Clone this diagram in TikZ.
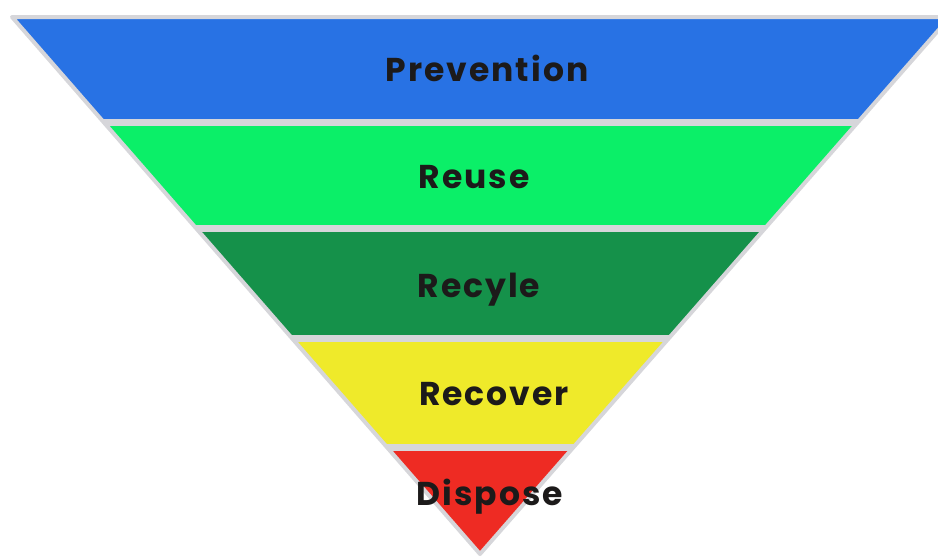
\documentclass[tikz,border=0pt]{standalone}
\usepackage{fontspec}
\setmainfont{Poppins}[UprightFont=* Bold, LetterSpace=6]
\usepackage{tikz}
\usetikzlibrary{positioning,calc}
\definecolor{bandblue}{HTML}{2872E4}
\definecolor{bandgreen}{HTML}{0BEF68}
\definecolor{banddark}{HTML}{15914A}
\definecolor{bandyellow}{HTML}{EFEA2A}
\definecolor{bandred}{HTML}{EE2B23}
\definecolor{edgegray}{HTML}{D6D6DA}
\definecolor{inkblack}{HTML}{1C1A1A}
\tikzset{
  bandlabel/.style={inkblack, font=\fontsize{33}{33}\selectfont, inner sep=0pt}
}

\begin{document}
\begin{tikzpicture}[x=1pt,y=-1pt]
      \useasboundingbox (0,0) rectangle (938,558);
      \coordinate (topleft) at (12,17);
      \coordinate (topright) at (950,17);
      \coordinate (apex) at (480,554);

      % gray base, then the coloured bands clipped to the funnel
      \fill[edgegray] (topleft) -- (topright) -- (apex) -- cycle;
      \begin{scope}
        \clip (topleft) -- (topright) -- (apex) -- cycle;
        \foreach \ya/\yb/\col in {19/119/bandblue, 126/225/bandgreen,
            232/335/banddark, 342/444/bandyellow, 451/560/bandred} {
          \fill[\col] (0,\ya) rectangle (950,\yb);
        }
      \end{scope}
      \draw[edgegray, line width=4pt, line join=round]
        (topleft) -- (topright) -- (apex) -- cycle;

      \node[bandlabel] (prevention) at (487,68) {Prevention};
      \node[bandlabel] (reuse) at (474,177) {Reuse};
      \node[bandlabel] (recyle) at (479,290) {Recyle};
      \node[bandlabel] (recover) at (494,394) {Recover};
      \node[bandlabel] (dispose) at (490,497) {Dispose};
    \end{tikzpicture}
\end{document}
